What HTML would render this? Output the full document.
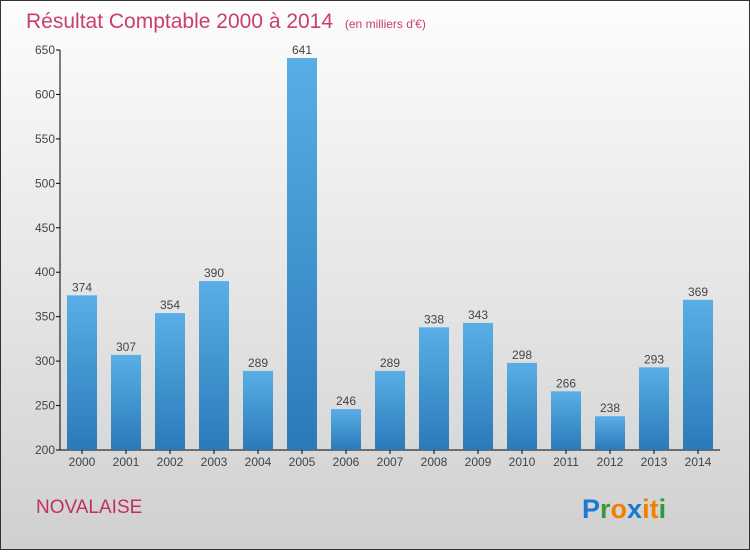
<!DOCTYPE html>
<html><head><meta charset="utf-8"><style>
body{margin:0;width:750px;height:550px;overflow:hidden}
</style></head><body>
<svg id="c" width="750" height="550" xmlns="http://www.w3.org/2000/svg" font-family="'Liberation Sans', sans-serif">
<defs>
<linearGradient id="bg" x1="0" y1="0" x2="0" y2="1"><stop offset="0" stop-color="#fdfdfd"/><stop offset="1" stop-color="#d0d0d0"/></linearGradient>
<linearGradient id="bar" x1="0" y1="0" x2="0" y2="1"><stop offset="0" stop-color="#5aaee6"/><stop offset="1" stop-color="#2a7ab8"/></linearGradient>
</defs>
<rect x="0.5" y="0.5" width="749" height="549" fill="url(#bg)" stroke="#333"/>
<text x="26" y="28" font-size="21" fill="#c8406a">Résultat Comptable 2000 à 2014 <tspan font-size="12" dx="6">(en milliers d'€)</tspan></text>
<text x="36" y="513" font-size="19" fill="#c0305f">NOVALAISE</text>
<text x="582" y="518" font-size="27" font-weight="bold"><tspan fill="#1a7ad0">P</tspan><tspan fill="#3a9a3a">r</tspan><tspan fill="#f08000">o</tspan><tspan fill="#1a7ad0">x</tspan><tspan fill="#f08000">i</tspan><tspan fill="#f08000">t</tspan><tspan fill="#2a9a3a">i</tspan></text>
<g id="plot"></g>
</svg>
<script>
const years=["2000","2001","2002","2003","2004","2005","2006","2007","2008","2009","2010","2011","2012","2013","2014"];
const values=[374,307,354,390,289,641,246,289,338,343,298,266,238,293,369];
const ticks=[200,250,300,350,400,450,500,550,600,650];
const ns="http://www.w3.org/2000/svg";
const g=document.getElementById('plot');
const y=v=>450-(v-200)*400/450;
const x=i=>82+i*44;
function mk(t,a){const e=document.createElementNS(ns,t);for(const k in a)e.setAttribute(k,a[k]);g.appendChild(e);return e;}
let ax=mk('line',{x1:60,y1:450,x2:60,y2:y(650),stroke:'#000'});


let bx=mk('line',{x1:60,y1:450,x2:720,y2:450,stroke:'#000'});


ticks.forEach(t=>{
 let l=mk('line',{x1:56,x2:60,y1:y(t),y2:y(t),stroke:'#000'});
 
 
 let tx=mk('text',{x:55,y:y(t)+4,'font-size':12,'text-anchor':'end',fill:'#444'});
 tx.textContent=t;
 
 
});
values.forEach((v,i)=>{
 let r=mk('rect',{x:x(i)-15,y:y(v),width:30,height:450-y(v),fill:'url(#bar)'});
 
 
 let vl=mk('text',{x:x(i),y:y(v)-4,'font-size':12,'text-anchor':'middle',fill:'#444'});
 vl.textContent=v;
 
 
 let tk=mk('line',{x1:x(i),x2:x(i),y1:450,y2:454,stroke:'#000'});
 
 
 let xl=mk('text',{x:x(i),y:466,'font-size':12,'text-anchor':'middle',fill:'#444'});
 xl.textContent=years[i];
 
 
});
</script>
</body></html>
